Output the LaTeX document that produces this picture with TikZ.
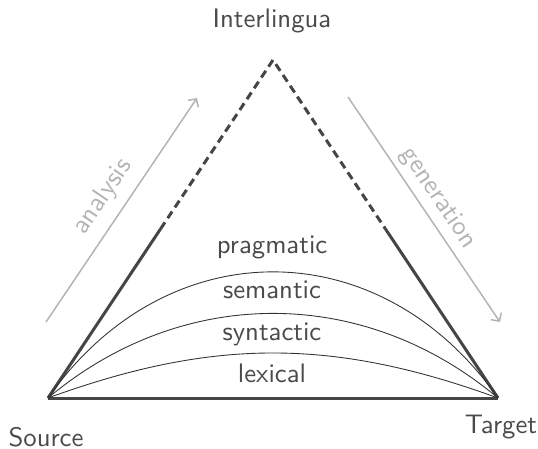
\documentclass[tikz,border=0pt]{standalone}
\usepackage{xcolor}
\usetikzlibrary{arrows.meta}
\usetikzlibrary{calc}
\definecolor{edgegray}{HTML}{454545}
\definecolor{arrowgray}{HTML}{B4B4B4}
\definecolor{textgray}{HTML}{4A4A4A}
\tikzset{
	side/.style={line width=1.2pt, color=edgegray},
	level/.style={line width=0.35pt, color=black!80},
	flow/.style={line width=0.6pt, color=arrowgray, -{Straight Barb[length=2.4pt,width=5pt]}},
	lbl/.style={font=\fontsize{10.7}{13}\sffamily, text=textgray, inner sep=0pt, anchor=base},
	flowlbl/.style={font=\fontsize{10.7}{13}\sffamily, text=arrowgray, inner sep=0pt},
}

\begin{document}
\begin{tikzpicture}[x=0.4pt,y=0.4pt]
	\useasboundingbox (0,0) rectangle (538,448);

	% corners of the triangle
	\coordinate (src) at (48,50);
	\coordinate (tgt) at (498,50);
	\coordinate (apex) at (273,388);
	\coordinate (midl) at ($(src)!0.5!(apex)$);
	\coordinate (midr) at ($(tgt)!0.5!(apex)$);

	\draw[side] (src) -- (tgt);
	\draw[side] (src) -- (midl);
	\draw[side, dash pattern=on 3.2pt off 2pt] (midl) -- (apex) -- (midr);
	\draw[side] (midr) -- (tgt);

	% levels
	\draw[level] (src) to[out=55,in=125,looseness=1.17] (tgt);
	\draw[level] (src) to[out=40,in=140] (tgt);
	\draw[level] (src) to[out=20,in=160] (tgt);

	\node[lbl] (prag) at (272,195) {pragmatic};
	\node[lbl] (sem) at (272,150) {semantic};
	\node[lbl] (syn) at (272,108) {syntactic};
	\node[lbl] (lex) at (272,66) {lexical};

	\node[lbl] (source) at (46,2) {Source};
	\node[lbl] (target) at (501,15) {Target};
	\node[lbl] (inter) at (272,421) {Interlingua};

	% analysis and generation
	\coordinate (ana-a) at (46,126);
	\coordinate (ana-b) at (197,350);
	\coordinate (gen-a) at (348,351);
	\coordinate (gen-b) at (500,126);
	\draw[flow] (ana-a) -- (ana-b);
	\draw[flow] (gen-a) -- (gen-b);
	\node[flowlbl, rotate=56] (ana) at (103,251) {analysis};
	\node[flowlbl, rotate=-56] (gen) at (438,250) {generation};
\end{tikzpicture}
\end{document}
